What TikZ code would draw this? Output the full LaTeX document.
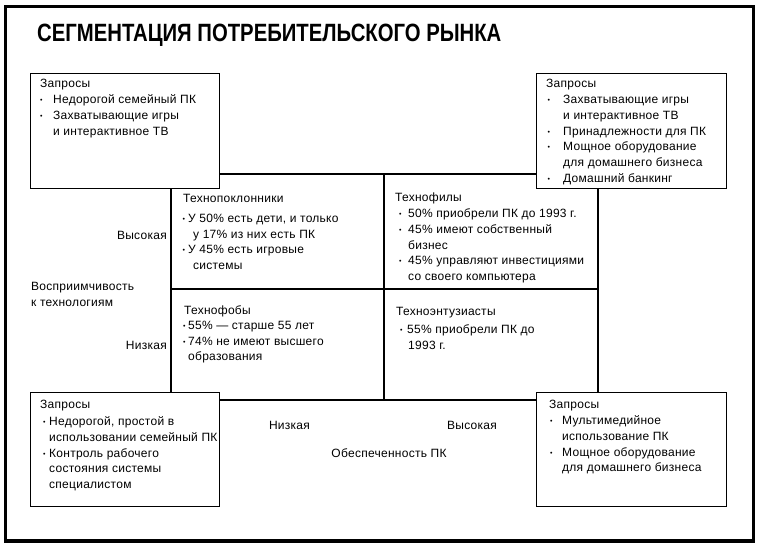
\documentclass[tikz,border=0pt]{standalone}
\usepackage{fontspec}
\setmainfont{Liberation Sans}[LetterSpace=2.2]
\newfontfamily\titlefont{Liberation Sans}[FakeStretch=0.812]
\usetikzlibrary{positioning}

\newcommand{\cellfont}{\fontsize{12}{15.8}\selectfont}
\newcommand{\itm}[2]{\hspace*{#1}\makebox[#2][l]{\raisebox{1pt}{\fontsize{7}{7}\selectfont\textbullet}}}
\newcommand{\nxt}[1]{\hspace*{#1}}
\newcommand{\lnup}{\rule{0pt}{9pt}}

\begin{document}
\begin{tikzpicture}[
  x=1pt, y=-1pt,
  frame/.style={line width=3.5pt},
  grid/.style={line width=1.2pt},
  axis/.style={line width=2pt},
  reqbox/.style={draw, fill=white, line width=0.9pt, inner sep=0pt,
                 minimum width=190pt, minimum height=115pt, anchor=north west},
  txt/.style={anchor=north west, align=left, inner sep=0pt, font=\cellfont},
  lbl/.style={inner sep=0pt, font=\cellfont}
]
\useasboundingbox (0,0) rectangle (763,551);
\draw[frame] (5.3,6.5) rectangle (753.5,541);

\node[anchor=base west, inner sep=0pt, font=\titlefont\bfseries\fontsize{25}{25}\selectfont]
  (title) at (37,42) {СЕГМЕНТАЦИЯ ПОТРЕБИТЕЛЬСКОГО РЫНКА};

% matrix of segments
\coordinate (gnw) at (171,174);
\coordinate (gse) at (598,400);
\coordinate (gn) at (384,174);
\coordinate (gs) at (384,400);
\coordinate (gw) at (171,289);
\coordinate (ge) at (598,289);
\draw[grid] (gnw) rectangle (gse);
\draw[axis] (gn) -- (gs);
\draw[axis] (gw) -- (ge);

% requests in the corners
\node[reqbox, minimum width=189pt] (reqUL) at (30,73) {};
\node[reqbox] (reqUR) at (536,73) {};
\node[reqbox, minimum width=189pt, minimum height=114pt] (reqLL) at (30,392) {};
\node[reqbox, minimum height=114pt] (reqLR) at (536,392) {};

\node[txt] (txtUL) at (40,78.5) {\lnup Запросы\\
  \itm{0pt}{13pt}Недорогой семейный ПК\\
  \itm{0pt}{13pt}Захватывающие игры\\
  \nxt{13pt}и интерактивное ТВ};
\node[txt] (txtUR) at (546,78.5) {\lnup Запросы\\
  \itm{1.5pt}{15.5pt}Захватывающие игры\\
  \nxt{17pt}и интерактивное ТВ\\
  \itm{1.5pt}{15.5pt}Принадлежности для ПК\\
  \itm{1.5pt}{15.5pt}Мощное оборудование\\
  \nxt{17pt}для домашнего бизнеса\\
  \itm{1.5pt}{15.5pt}Домашний банкинг};
\node[txt] (txtLL) at (40,399.5) {\lnup Запросы\\[0.9pt]
  \itm{3pt}{6pt}Недорогой, простой в\\
  \nxt{9pt}использовании семейный ПК\\
  \itm{3pt}{6pt}Контроль рабочего\\
  \nxt{9pt}состояния системы\\
  \nxt{9pt}специалистом};
\node[txt] (txtLR) at (549,399.5) {\lnup Запросы\\
  \itm{1pt}{12pt}Мультимедийное\\
  \nxt{13pt}использование ПК\\
  \itm{1pt}{12pt}Мощное оборудование\\
  \nxt{13pt}для домашнего бизнеса};

% segments
\node[txt] (techLover) at (183,193.5) {\lnup Технопоклонники\\[3.7pt]
  \itm{-0.5pt}{5.5pt}У 50\% есть дети, и только\\
  \nxt{10pt}у 17\% из них есть ПК\\
  \itm{-0.5pt}{5.5pt}У 45\% есть игровые\\
  \nxt{10pt}системы};
\node[txt] (techPhile) at (395,192.5) {\lnup Технофилы\\
  \itm{4pt}{9pt}50\% приобрели ПК до 1993 г.\\
  \itm{4pt}{9pt}45\% имеют собственный\\
  \nxt{13pt}бизнес\\
  \itm{4pt}{9pt}45\% управляют инвестициями\\
  \nxt{13pt}со своего компьютера};
\node[txt] (techPhobe) at (184,305.5) {\lnup Технофобы\\[-1.3pt]
  \itm{-1pt}{5pt}55\% — старше 55 лет\\
  \itm{-1pt}{5pt}74\% не имеют высшего\\
  \nxt{4pt}образования};
\node[txt] (techFan) at (396,306.5) {\lnup Техноэнтузиасты\\[2.2pt]
  \itm{4pt}{7pt}55\% приобрели ПК до\\
  \nxt{12pt}1993 г.};

% axes labels
\node[lbl, anchor=east] (yHigh) at (167,235) {Высокая};
\node[lbl, anchor=east] (yLow) at (167,345) {Низкая};
\node[txt] (yName) at (31,281) {\lnup Восприимчивость\\к технологиям};
\node[lbl] (xLow) at (289.5,425) {Низкая};
\node[lbl] (xHigh) at (472,425) {Высокая};
\node[lbl] (xName) at (389,453) {Обеспеченность ПК};
\end{tikzpicture}
\end{document}
